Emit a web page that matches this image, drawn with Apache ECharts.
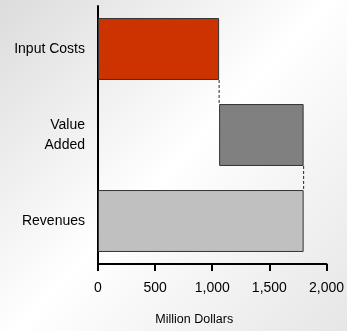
<!DOCTYPE html>
<html>
<head>
<meta charset="utf-8">
<script src="https://cdn.jsdelivr.net/npm/echarts@6/dist/echarts.min.js"></script>
<style>
  html, body { margin: 0; padding: 0; }
  #chart { width: 347px; height: 331px; }
</style>
</head>
<body>
<div id="chart"></div>
<script>
// Revenue breakdown (million dollars)
var categories = ['Input Costs', 'Value\nAdded', 'Revenues'];
var inputCosts = 1060;
var valueAdded = 740;
var revenues = 1800;
var xTicks = [0, 500, 1000, 1500, 2000];

// Waterfall: invisible offsets and visible segments
var offsets = [0, inputCosts, 0];
var segments = [inputCosts, valueAdded, revenues];
var barColors = ['#CC3300', '#808080', '#C0C0C0'];
// Bar ends that get a dashed connector down to the next bar
var connectorEnds = [inputCosts, inputCosts + valueAdded];

var chart = echarts.init(document.getElementById('chart'));
var barRatio = 0.72;
var font = 'Liberation Sans, Arial';

chart.setOption({
  animation: false,
  backgroundColor: {
    type: 'linear', x: 0, y: 0, x2: 1, y2: 1,
    colorStops: [
      { offset: 0, color: '#dcdcdc' },
      { offset: 0.5, color: '#ffffff' },
      { offset: 1, color: '#e6e6e6' }
    ]
  },
  grid: { left: 98, right: 18, top: 6, bottom: 66, containLabel: false },
  xAxis: {
    type: 'value',
    min: xTicks[0], max: xTicks[xTicks.length - 1], interval: xTicks[1] - xTicks[0],
    axisLine: { show: true, lineStyle: { color: '#000', width: 2 } },
    axisTick: { show: true, length: 7, lineStyle: { color: '#000', width: 2 } },
    splitLine: { show: false },
    axisLabel: {
      color: '#000', fontFamily: font, fontSize: 14, margin: 17,
      formatter: function (v) { return v.toLocaleString('en-US'); }
    },
    name: 'Million Dollars',
    nameLocation: 'middle',
    nameGap: 49,
    nameTextStyle: { color: '#000', fontFamily: font, fontSize: 12.5, padding: [0, 36, 0, 0] }
  },
  yAxis: {
    type: 'category',
    data: categories,
    inverse: true,
    axisLine: { show: true, onZero: false, lineStyle: { color: '#000', width: 2 } },
    axisTick: { show: false },
    axisLabel: {
      color: '#000', fontFamily: font, fontSize: 14, margin: 13,
      lineHeight: 20, align: 'right'
    }
  },
  series: [
    {
      type: 'bar', stack: 'w', barWidth: (barRatio * 100) + '%',
      itemStyle: { color: 'transparent' },
      data: offsets,
      silent: true
    },
    {
      type: 'bar', stack: 'w', barWidth: (barRatio * 100) + '%',
      data: segments.map(function (v, i) {
        return { value: v, itemStyle: { color: barColors[i], borderColor: '#333', borderWidth: 1 } };
      })
    },
    {
      type: 'custom',
      coordinateSystem: 'cartesian2d',
      data: connectorEnds.map(function (v, i) { return [v, i]; }),
      z: 5,
      renderItem: function (params, api) {
        var x = api.value(0);
        var i = api.value(1);
        var band = api.size([0, 1])[1];
        var half = band * barRatio / 2;
        var p1 = api.coord([x, i]);
        var p2 = api.coord([x, i + 1]);
        return {
          type: 'line',
          shape: { x1: p1[0], y1: p1[1] + half, x2: p2[0], y2: p2[1] - half },
          style: { stroke: '#222', lineWidth: 1, lineDash: [3, 2] }
        };
      }
    }
  ]
});
</script>
</body>
</html>
